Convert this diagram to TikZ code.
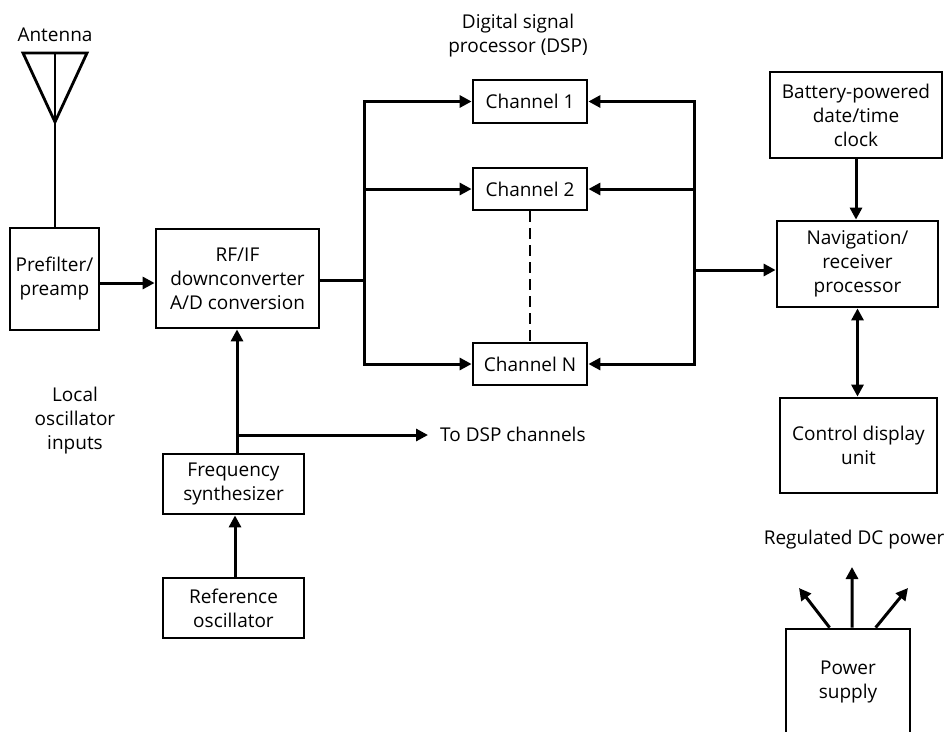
\documentclass[tikz,border=0pt]{standalone}
\usepackage{fontspec}
\setmainfont{Open Sans}
\usetikzlibrary{arrows.meta,calc}
\begin{document}
\begin{tikzpicture}[x=1pt,y=-1pt,
  txt/.style={font=\fontsize{19}{24}\selectfont},
  box/.style={draw,line width=2.8pt,inner sep=0pt,align=center,txt},
  lbl/.style={inner sep=0pt,align=center,txt},
  conn/.style={line width=3pt},
  arr/.style={conn,-{Triangle[length=12pt,width=12pt]}},
  darr/.style={conn,{Triangle[length=12pt,width=12pt]}-{Triangle[length=12pt,width=12pt]}},
]
\useasboundingbox (0,0) rectangle (950,731);

% labels
\node[lbl] (antl) at (55,35) {Antenna};
\node[lbl] (dspl) at (518,36) {Digital signal\\processor (DSP)};
\node[lbl] (lol) at (75,421) {Local\\oscillator\\inputs};
\node[lbl,anchor=west] (todsp) at (440,434) {To DSP channels};
\node[lbl] (regl) at (854,540) {Regulated DC power};

% boxes
\node[box,minimum width=89pt,minimum height=102pt] (pre) at (54.5,279) {Prefilter/\\preamp};
\node[box,minimum width=163pt,minimum height=99pt] (rf) at (237.5,278.5) {RF/IF\\downconverter\\A/D conversion};
\node[box,minimum width=114pt,minimum height=43pt] (ch1) at (530,101.5) {Channel 1};
\node[box,minimum width=114pt,minimum height=42pt] (ch2) at (530,189) {Channel 2};
\node[box,minimum width=114pt,minimum height=42pt] (chN) at (530,364) {Channel N};
\node[box,minimum width=172pt,minimum height=86pt] (bat) at (856,115) {Battery-powered\\date/time\\clock};
\node[box,minimum width=161pt,minimum height=86pt] (nav) at (857.5,264) {Navigation/\\receiver\\processor};
\node[box,minimum width=157pt,minimum height=95pt] (cdu) at (858.5,445.5) {Control display\\unit};
\node[box,minimum width=141pt,minimum height=60pt] (fs) at (233.5,484) {Frequency\\synthesizer};
\node[box,minimum width=141pt,minimum height=60pt] (ro) at (233.5,608) {Reference\\oscillator};
\node[box,minimum width=124pt,minimum height=106pt] (ps) at (848,682) {Power\\supply};

% antenna
\coordinate (antop) at (55,53);
\draw[line width=2.8pt,line join=miter] (23,53) -- (87,53) -- (55,122) -- cycle;
\draw[line width=2.8pt] (antop) -- (pre.north -| antop);

% prefilter to RF
\draw[arr] ($(pre.east)+(0,4)$) -- ($(pre.east -| rf.west)+(0,4)$);

% RF to channels
\coordinate (jL) at (364,280);
\draw[conn] (rf.east |- jL) -- (jL);
\draw[arr] (jL) |- (ch1.west);
\draw[arr] (jL) |- (chN.west);
\draw[arr] (jL |- ch2.west) -- (ch2.west);

% channels to navigation
\coordinate (jR) at (694,270);
\draw[arr] (jR) |- (ch1.east);
\draw[arr] (jR) |- (chN.east);
\draw[arr] (jR |- ch2.east) -- (ch2.east);
\draw[arr] (jR) -- (jR -| nav.west);

% dashed between channels
\draw[line width=2.8pt,dash pattern=on 11pt off 6pt] (ch2.south) -- (chN.north);

% clock, nav, CDU
\draw[arr] (bat.south) -- (bat.south |- nav.north);
\draw[darr] (nav.south) -- (nav.south |- cdu.north);

% synthesizer
\coordinate (jF) at (237,435);
\draw[arr] (fs.north -| jF) -- (rf.south -| jF);
\draw[arr] (jF) -- ([xshift=-12pt]todsp.west |- jF);
\draw[arr] (ro.north -| 235,0) -- (fs.south -| 235,0);

% power supply outputs
\coordinate (pwL) at (799,588);
\coordinate (pwC) at (852,567);
\coordinate (pwR) at (908,588);
\draw[arr] ($(ps.north west)!0.355!(ps.north east)$) -- (pwL);
\draw[arr] ($(ps.north west)!0.532!(ps.north east)$) -- (pwC);
\draw[arr] ($(ps.north west)!0.718!(ps.north east)$) -- (pwR);
\end{tikzpicture}
\end{document}
